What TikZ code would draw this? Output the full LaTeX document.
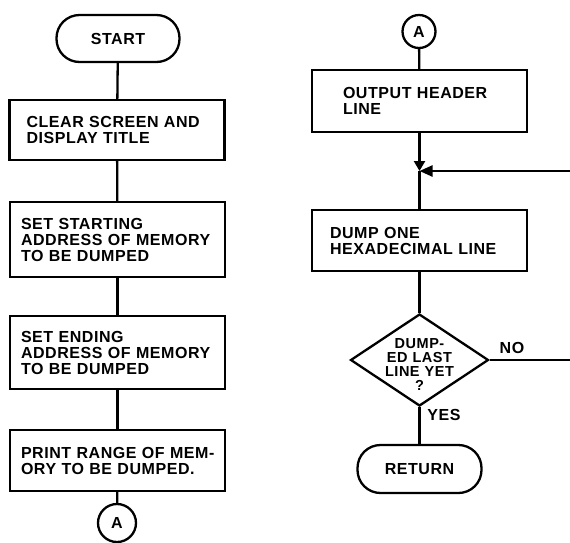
\documentclass[tikz,border=0pt]{standalone}
\usepackage{fontspec}
\setmainfont{Liberation Sans}[LetterSpace=3.5,WordSpace=2]
\newfontfamily\decfont{Liberation Sans}[LetterSpace=3.5,WordSpace=1.1]
\usetikzlibrary{arrows.meta,shapes.geometric}
\begin{document}
\begin{tikzpicture}[x=1pt,y=-1pt,line width=2.3pt,
  every node/.style={font=\bfseries\fontsize{16}{16}\selectfont},
  arr/.style={-{Triangle[length=13pt,width=11pt]}},
  term/.style={draw,rectangle,rounded corners=23pt,inner sep=0pt},
  proc/.style={draw,rectangle,align=left,inner ysep=0pt},
  conn/.style={draw,circle,inner sep=0pt},
  decision/.style={draw,diamond,inner sep=0pt,minimum width=138pt,minimum height=92pt}]
\useasboundingbox (0,0) rectangle (570,542);
% left column
\node[term,minimum width=123pt,minimum height=47pt] (start) at (118,38.5) {START};
\node[proc,text width=181pt,inner xsep=17pt,minimum height=60pt] (b1) at (117,130) {CLEAR SCREEN AND\\DISPLAY TITLE};
\node[proc,text width=193pt,inner xsep=11pt,minimum height=75pt] (b2) at (117.5,239.5) {SET STARTING\\\mbox{ADDRESS OF MEMORY}\\TO BE DUMPED};
\node[proc,text width=193pt,inner xsep=11pt,minimum height=73pt] (b3) at (117.5,352.5) {SET ENDING\\\mbox{ADDRESS OF MEMORY}\\TO BE DUMPED};
\node[proc,text width=193pt,inner xsep=11pt,minimum height=61pt] (b4) at (117.5,460.5) {\mbox{PRINT RANGE OF MEM-}\\ORY TO BE DUMPED.};
\node[conn,minimum size=38pt] (a1) at (117,523) {A};
\draw (start) -- (b1);
\draw (b1) -- (b2);
\draw (b2) -- (b3);
\draw (b3) -- (b4);
\draw (b4) -- (a1);
% right column
\node[conn,minimum size=33pt] (a2) at (419,31.5) {A};
\node[proc,text width=153pt,inner xsep=31pt,minimum height=62pt] (out) at (419.5,101) {OUTPUT HEADER\\LINE};
\coordinate (j) at (419.5,171);
\node[proc,text width=179pt,inner xsep=18pt,minimum height=61pt] (dump) at (419.5,240.5) {DUMP ONE\\HEXADECIMAL LINE};
\node[decision] (dec) at (419.5,360) {};
\node[align=center,font=\decfont\bfseries\fontsize{14.5}{14}\selectfont] (dect) at (419.5,364.5) {DUMP-\\ED LAST\\LINE YET\\?};
\node[term,minimum width=124pt,minimum height=48pt] (ret) at (419.5,469) {RETURN};
\node (no) at (512,348) {NO};
\node (yes) at (444,415) {YES};
\coordinate (loop) at (580,171);
\draw (a2) -- (out);
\draw[-{Triangle[length=10pt,width=11pt]}] (out) -- (j);
\draw (j) -- (dump);
\draw (dump) -- (dec);
\draw (dec) -- (ret);
\draw[arr] (dec.east) -| (loop) -- (j);
\end{tikzpicture}
\end{document}
